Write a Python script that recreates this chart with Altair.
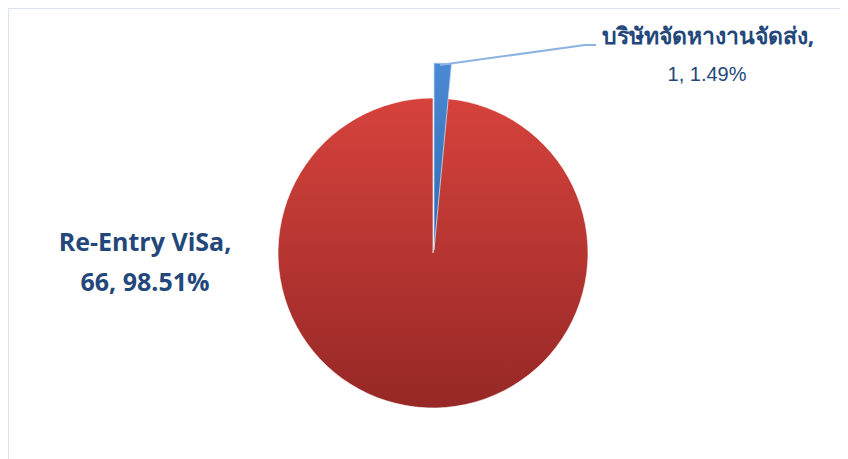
import math
import altair as alt
import pandas as pd

categories = ["บริษัทจัดหางานจัดส่ง", "Re-Entry ViSa"]
values = [1, 66]
order = [0, 1]

total = sum(values)
pcts = [f"{v / total * 100:.2f}%" for v in values]

df = pd.DataFrame({"category": categories, "value": values, "order": order, "pct": pcts})

W, H = 832, 460
CX, CY = 425, 245

base = alt.Chart(df).transform_window(
    end="sum(value)", sort=[alt.SortField("order")], frame=[None, 0]
).transform_calculate(start="datum.end - datum.value")

theta_scale = alt.Scale(domain=[0, total], range=[0, 2 * math.pi])

red_grad = {"gradient": "linear", "x1": 0, "y1": 0, "x2": 0, "y2": 1,
            "stops": [{"offset": 0, "color": "#d6423c"}, {"offset": 1, "color": "#962826"}]}
blue_grad = {"gradient": "linear", "x1": 0, "y1": 0, "x2": 0, "y2": 1,
             "stops": [{"offset": 0, "color": "#4b8ad4"}, {"offset": 1, "color": "#2d69b3"}]}

red = base.transform_filter(alt.datum.category == categories[1]).mark_arc(
    outerRadius=155, color=red_grad, stroke="#ffffff", strokeWidth=0.6
).encode(
    theta=alt.Theta("start:Q", scale=theta_scale),
    theta2="end:Q",
    x=alt.value(CX), y=alt.value(CY),
)

blue = base.transform_filter(alt.datum.category == categories[0]).mark_arc(
    outerRadius=187, color=blue_grad, stroke="#c9dbf2", strokeWidth=0.8
).encode(
    theta=alt.Theta("start:Q", scale=theta_scale),
    theta2="end:Q",
    x=alt.value(CX + 1), y=alt.value(CY - 3),
)

one = alt.Chart(df.head(1))
border_top = one.mark_rule(color="#d8e4f4", strokeWidth=2).encode(
    x=alt.value(-1), y=alt.value(0), x2=alt.value(W + 10), y2=alt.value(0)
)
border_left = one.mark_rule(color="#d8e4f4", strokeWidth=2).encode(
    x=alt.value(0), y=alt.value(0), x2=alt.value(0), y2=alt.value(H + 10)
)

leader1 = one.mark_rule(color="#8db3e2", strokeWidth=2).encode(
    x=alt.value(432), y=alt.value(57), x2=alt.value(577), y2=alt.value(37)
)
leader2 = one.mark_rule(color="#8db3e2", strokeWidth=2).encode(
    x=alt.value(577), y=alt.value(37), x2=alt.value(588), y2=alt.value(37)
)

text_color = "#23477a"

left_lbl = base.transform_filter(alt.datum.category == categories[1]).transform_calculate(
    l1="datum.category + ','", l2="datum.value + ', ' + datum.pct"
)
left1 = left_lbl.mark_text(font="Open Sans", fontSize=25, fontWeight="bold", color=text_color,
                           align="center", baseline="middle").encode(
    text="l1:N", x=alt.value(137), y=alt.value(235))
left2 = left_lbl.mark_text(font="Open Sans", fontSize=25, fontWeight="bold", color=text_color,
                           align="center", baseline="middle").encode(
    text="l2:N", x=alt.value(137), y=alt.value(275))

right_lbl = base.transform_filter(alt.datum.category == categories[0]).transform_calculate(
    l1="datum.category + ','", l2="datum.value + ', ' + datum.pct"
)
right1 = right_lbl.mark_text(font="Tahoma, Noto Sans, DejaVu Sans, sans-serif", fontSize=23,
                             fontWeight="bold", color=text_color,
                             align="center", baseline="middle").encode(
    text="l1:N", x=alt.value(700), y=alt.value(29))
right2 = right_lbl.mark_text(font="Liberation Sans", fontSize=20, color=text_color,
                             align="center", baseline="middle").encode(
    text="l2:N", x=alt.value(699), y=alt.value(67))

chart = alt.layer(border_top, border_left, red, blue, leader1, leader2,
                  left1, left2, right1, right2).properties(
    width=W, height=H, padding=0, autosize=alt.AutoSizeParams(type="none"), background="white"
).configure_view(strokeWidth=0)

chart.save("out.html", embed_options={"renderer": "svg", "actions": False})
